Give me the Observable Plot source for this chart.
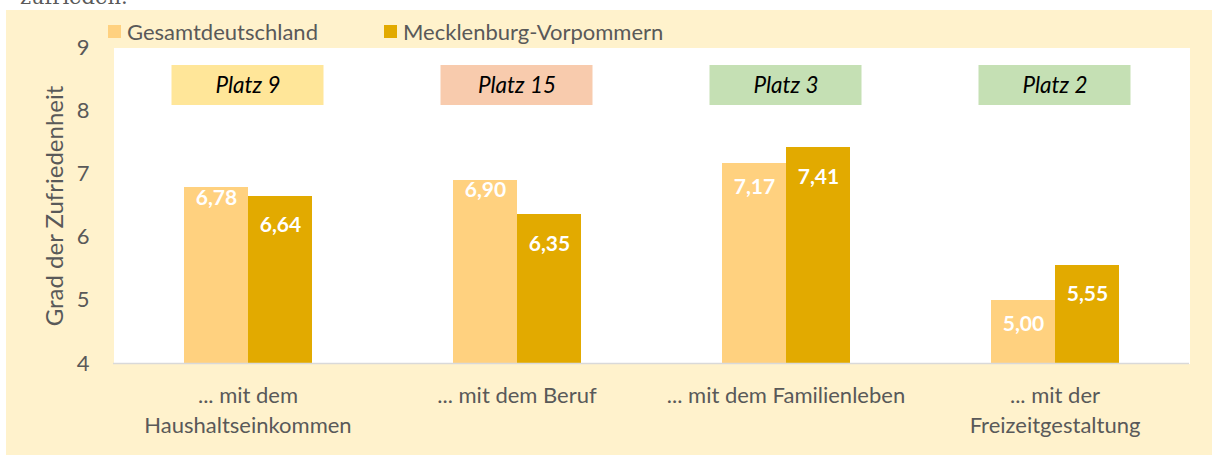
<!DOCTYPE html>
<html>
<head>
<meta charset="utf-8">
<script src="https://cdn.jsdelivr.net/npm/d3@7"></script>
<script src="https://cdn.jsdelivr.net/npm/@observablehq/plot@0.6"></script>
<style>
  html, body { margin: 0; padding: 0; background: #ffffff; width: 1212px; height: 455px; overflow: hidden; position: relative; }
  #above { position: absolute; left: 20px; top: -13px; font-family: "DejaVu Serif", serif; font-size: 21px; line-height: 21px; color: #595959; white-space: nowrap; }
  #card { position: absolute; left: 6px; top: 10px; width: 1206px; height: 445px; background: #FFF2CC; }
  #legend { position: relative; height: 28px; font-family: Lato, sans-serif; font-size: 22px; color: #595959; }
  .item { position: absolute; top: 15px; display: flex; align-items: center; height: 13px; white-space: nowrap; }
  .sw { width: 13px; height: 13px; margin-right: 6px; flex: none; }
  #chart svg { display: block; }
  #ylabel { position: absolute; left: 47px; top: 196px; transform: translate(-50%, -50%) rotate(-90deg); font-family: Lato, sans-serif; font-size: 24px; color: #595959; white-space: nowrap; }
</style>
</head>
<body>
<div id="above">zufrieden.</div>
<div id="card">
  <div id="legend"></div>
  <div id="chart"></div>
  <div id="ylabel"></div>
</div>
<script>
// ---- data ----
const categories = [
  "... mit dem\nHaushaltseinkommen",
  "... mit dem Beruf",
  "... mit dem Familienleben",
  "... mit der\nFreizeitgestaltung"
];
const seriesNames = ["Gesamtdeutschland", "Mecklenburg-Vorpommern"];
const gesamtValues = [6.78, 6.90, 7.17, 5.00];
const mvValues = [6.64, 6.35, 7.41, 5.55];
const ranks = ["Platz 9", "Platz 15", "Platz 3", "Platz 2"];
const yTicks = [4, 5, 6, 7, 8, 9];
const yLabel = "Grad der Zufriedenheit";

// ---- styles ----
const seriesColors = {"Gesamtdeutschland": "#FFD17F", "Mecklenburg-Vorpommern": "#E2AA00"};
const rankColors = ["#FFE699", "#F8CBAD", "#C5E0B4", "#C5E0B4"];
const textGray = "#595959";
const font = "Lato, sans-serif";

// ---- build rows ----
const rows = categories.flatMap((c, i) => [
  {cat: c, series: seriesNames[0], value: gesamtValues[i], other: mvValues[i], idx: 0},
  {cat: c, series: seriesNames[1], value: mvValues[i], other: gesamtValues[i], idx: 1}
]);
const rankRows = categories.map((c, i) => ({cat: c, rank: ranks[i], color: rankColors[i]}));
const fmt = v => d3.format(".2f")(v).replace(".", ",");

// ---- legend & y label ----
const legend = document.getElementById("legend");
const legendLeft = [102, 378];
seriesNames.forEach((s, i) => {
  const it = document.createElement("div");
  it.className = "item";
  it.style.left = legendLeft[i] + "px";
  it.innerHTML = `<span class="sw" style="background:${seriesColors[s]}"></span><span>${s}</span>`;
  legend.appendChild(it);
});
document.getElementById("ylabel").textContent = yLabel;

const baseline = yTicks[0];
const labelOpts = {fx: "cat", x: "series", y: "value", text: d => fmt(d.value),
  lineAnchor: "middle", fill: "white", fontWeight: "bold", fontSize: 21};

const chart = Plot.plot({
  width: 1206,
  height: 417,
  marginTop: 9,
  marginBottom: 92,
  marginLeft: 106,
  marginRight: 22,
  style: {fontFamily: font, fontSize: "22px", color: textGray, background: "transparent", overflow: "visible"},
  fx: {domain: categories, padding: 0, axis: null, label: null},
  x: {domain: seriesNames, paddingInner: 0, paddingOuter: 1.08, axis: null},
  y: {domain: [yTicks[0], yTicks[yTicks.length - 1]], ticks: yTicks, tickFormat: d => String(d),
      tickSize: 0, tickPadding: 24, label: null},
  color: {type: "identity"},
  marks: [
    Plot.frame({fill: "white", stroke: "none", shapeRendering: "crispEdges"}),
    Plot.rect(rankRows, {fx: "cat", fill: "color", insetTop: 18, insetBottom: 258, insetLeft: 58.5, insetRight: 58.5}),
    Plot.text(rankRows, {fx: "cat", text: "rank", frameAnchor: "top", dy: 38, lineAnchor: "middle",
      fill: "black", fontStyle: "italic", fontSize: 22.5}),
    Plot.barY(rows, {fx: "cat", x: "series", y1: () => baseline, y2: "value",
      fill: d => seriesColors[d.series], shapeRendering: "crispEdges"}),
    // labels: light bar taller than its neighbour sits at the very top, others a bit lower
    Plot.text(rows.filter(d => d.idx === 0 && d.value > d.other), {...labelOpts, dy: 10}),
    Plot.text(rows.filter(d => d.idx === 0 && d.value <= d.other), {...labelOpts, dy: 24}),
    Plot.text(rows.filter(d => d.idx === 1), {...labelOpts, dy: 29}),
    Plot.ruleY([baseline], {stroke: "#D9D9D9", strokeWidth: 1.5}),
    Plot.text(categories, {fx: d => d, text: d => d, frameAnchor: "bottom", lineAnchor: "top",
      dy: 18, lineHeight: 1.36, fill: textGray, fontSize: 22})
  ]
});
document.getElementById("chart").appendChild(chart);
</script>
</body>
</html>
